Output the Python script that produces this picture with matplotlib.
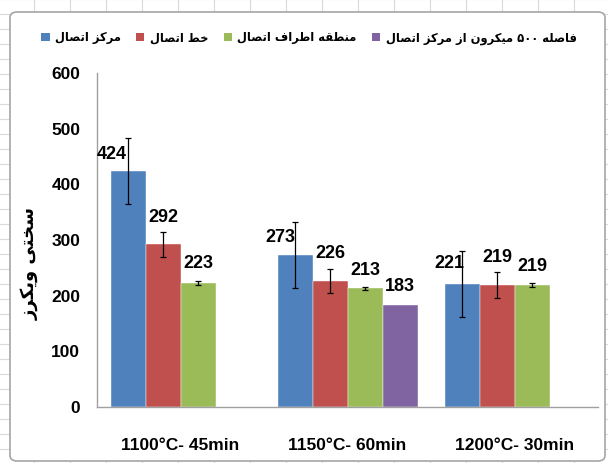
import numpy as np
import matplotlib
matplotlib.use('Agg')
import matplotlib.pyplot as plt
from matplotlib.patches import FancyBboxPatch, Patch
from matplotlib.lines import Line2D

# data
groups = ['1100°C- 45min', '1150°C- 60min', '1200°C- 30min']
series = ['مرکز اتصال', 'خط اتصال', 'منطقه اطراف اتصال', 'فاصله ۵۰۰ میکرون از مرکز اتصال']
center = [424, 273, 221]
line = [292, 226, 219]
around = [223, 213, 219]
dist500 = [np.nan, 183, np.nan]
center_err = [60, 60, 60]
line_err = [23, 22, 23]
around_err = [3, 3, 3]
dist500_err = [np.nan, np.nan, np.nan]
y_label = 'سختی ویکرز'

COLORS = ['#4F81BD', '#C0504D', '#9BBB59', '#8064A2']
NUM_FONT = ['Liberation Sans', 'DejaVu Sans']
# label offsets (pixels) from bar top, as placed in the original
LABEL_OFFSETS = [
    [(-16, 16), (0, 27), (0, 19), (0, 19)],
    [(-15, 18), (0, 28), (0, 18), (0, 19)],
    [(-13, 20), (0, 28), (0, 19), (0, 19)],
]

# --- tiny arabic shaper (matplotlib has no text shaping) ---
FORMS = {
    'ا': ('\uFE8D', '\uFE8E', None, None),
    'ت': ('\uFE95', '\uFE96', '\uFE97', '\uFE98'),
    'خ': ('\uFEA5', '\uFEA6', '\uFEA7', '\uFEA8'),
    'ر': ('\uFEAD', '\uFEAE', None, None),
    'ز': ('\uFEAF', '\uFEB0', None, None),
    'س': ('\uFEB1', '\uFEB2', '\uFEB3', '\uFEB4'),
    'ص': ('\uFEB9', '\uFEBA', '\uFEBB', '\uFEBC'),
    'ط': ('\uFEC1', '\uFEC2', '\uFEC3', '\uFEC4'),
    'ف': ('\uFED1', '\uFED2', '\uFED3', '\uFED4'),
    'ق': ('\uFED5', '\uFED6', '\uFED7', '\uFED8'),
    'ل': ('\uFEDD', '\uFEDE', '\uFEDF', '\uFEE0'),
    'م': ('\uFEE1', '\uFEE2', '\uFEE3', '\uFEE4'),
    'ن': ('\uFEE5', '\uFEE6', '\uFEE7', '\uFEE8'),
    'ه': ('\uFEE9', '\uFEEA', '\uFEEB', '\uFEEC'),
    'و': ('\uFEED', '\uFEEE', None, None),
    'ک': ('\uFB8E', '\uFB8F', '\uFB90', '\uFB91'),
    'ی': ('\uFBFC', '\uFBFD', '\uFBFE', '\uFBFF'),
}


def shape_word(w):
    out = []
    for i, ch in enumerate(w):
        if ch not in FORMS:
            out.append(ch)
            continue
        prev = w[i - 1] if i > 0 else None
        nxt = w[i + 1] if i + 1 < len(w) else None
        dual = FORMS[ch][2] is not None
        jp = prev in FORMS and FORMS[prev][2] is not None
        jn = dual and nxt in FORMS
        if jp and jn:
            out.append(FORMS[ch][3])
        elif jp:
            out.append(FORMS[ch][1])
        elif jn:
            out.append(FORMS[ch][2])
        else:
            out.append(FORMS[ch][0])
    if any(c in FORMS for c in w):
        out = out[::-1]
    return ''.join(out)


def rtl(s):
    return ' '.join(shape_word(w) for w in s.split(' ')[::-1])


fig = plt.figure(figsize=(6.08, 4.63), dpi=100)

# spreadsheet grid behind the chart object
for gx in np.arange(-2, 608, 36):
    fig.add_artist(Line2D([gx / 608, gx / 608], [0, 1], color='#DADADA', lw=0.8, zorder=0))
for gy in np.arange(-1, 463, 15):
    fig.add_artist(Line2D([0, 1], [1 - gy / 463, 1 - gy / 463], color='#DADADA', lw=0.8, zorder=0))
frame = FancyBboxPatch((10 / 608, 2 / 463), 595 / 608, 449 / 463,
                       boxstyle='round,pad=0,rounding_size=0.012',
                       transform=fig.transFigure, facecolor='white',
                       edgecolor='#A6A6A6', lw=1.2, zorder=1)
fig.add_artist(frame)

ax = fig.add_axes([97 / 608, 1 - 407 / 463, 501 / 608, 334 / 463], zorder=2)
ax.patch.set_alpha(0)

values = [center, line, around, dist500]
errors = [center_err, line_err, around_err, dist500_err]
w = 35 / 167
x = np.arange(len(groups))
for k in range(4):
    xs = x + (k - 1.5) * w
    ax.bar(xs, values[k], width=w, color=COLORS[k], edgecolor='white', linewidth=0.3)
    ax.errorbar(xs, values[k], yerr=errors[k], fmt='none', ecolor='black',
                elinewidth=0.9, capsize=2.5, capthick=0.9)
    for g in range(len(groups)):
        v = values[k][g]
        if np.isnan(v):
            continue
        dx, dy = LABEL_OFFSETS[g][k]
        ax.annotate(f'{v:.0f}', (xs[g], v), xytext=(dx, dy), textcoords='offset pixels',
                    ha='center', va='center', fontsize=13, fontweight='bold',
                    family=NUM_FONT)

ax.set_xlim(-0.5, 2.5)
ax.set_ylim(0, 600)
ax.set_yticks(range(0, 601, 100))
ax.set_xticks(x)
ax.set_xticklabels(groups)
ax.tick_params(length=0, labelsize=12.5)
ax.tick_params(axis='x', pad=22)
ax.tick_params(axis='y', pad=12)
for lab in ax.get_xticklabels() + ax.get_yticklabels():
    lab.set_fontweight('bold')
    lab.set_family(NUM_FONT)
for s in ['top', 'right']:
    ax.spines[s].set_visible(False)
for s in ['left', 'bottom']:
    ax.spines[s].set_color('#A0A0A0')
    ax.spines[s].set_linewidth(1)

fig.text(30 / 608, 1 - 263 / 463, rtl(y_label), rotation=90, ha='center', va='center',
         fontsize=13, fontweight='bold', family='DejaVu Sans')

handles = [Patch(facecolor=c) for c in COLORS]
fig.legend(handles, [rtl(s) for s in series], loc='center', ncol=4,
           bbox_to_anchor=(309 / 608, 1 - 38 / 463), frameon=False,
           prop={'family': 'DejaVu Sans', 'size': 8.3, 'weight': 'bold'},
           handlelength=0.7, handleheight=0.7, handletextpad=0.5, columnspacing=1.3)

fig.savefig('out.png', dpi=100)
